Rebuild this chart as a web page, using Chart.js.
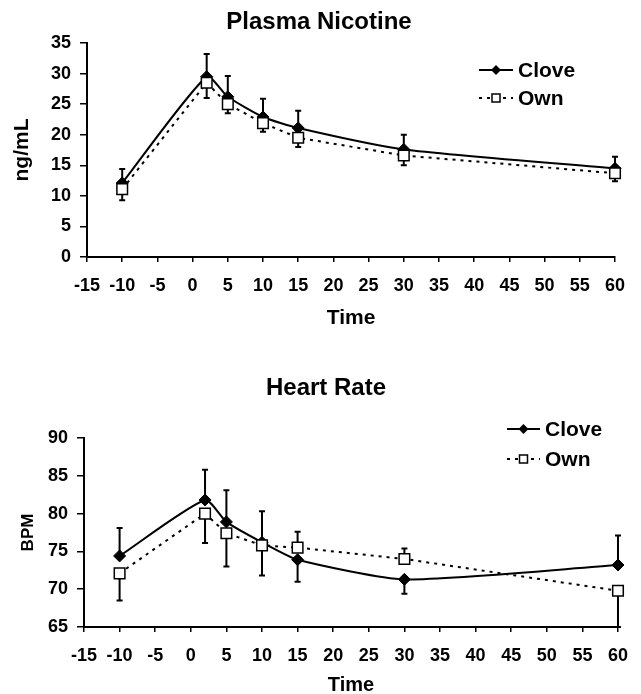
<!DOCTYPE html>
<html>
<head>
<meta charset="utf-8">
<script src="https://cdn.jsdelivr.net/npm/chart.js@4/dist/chart.umd.min.js"></script>
<style>
  body { margin: 0; background: #fff; }
  canvas { display: block; }
</style>
</head>
<body>
<canvas id="graficoNicotina" width="641" height="340"></canvas>
<canvas id="graficoBpm" width="641" height="354"></canvas>
<script>
// 1. DADOS
const tempos = [-10, 2, 5, 10, 15, 30, 60];
const nicotinaClove = [12.1, 29.5, 26.2, 22.9, 21.1, 17.6, 14.5];
const nicotinaOwn = [11.1, 28.5, 25.0, 21.9, 19.5, 16.6, 13.7];
// ponta da barra de erro (valor onde a barra termina)
const nicotinaCloveErro = [14.4, 33.2, 29.6, 25.9, 23.9, 20.0, 16.4];
const nicotinaOwnErro = [9.3, 26.0, 23.5, 20.5, 18.0, 15.0, 12.4];

const bpmClove = [74.4, 81.8, 78.9, 76.2, 73.9, 71.3, 73.2];
const bpmOwn = [72.1, 80.0, 77.4, 75.8, 75.5, 74.0, 69.8];
const bpmCloveErro = [78.1, 85.8, 83.1, 80.3, 71.0, 69.4, 77.1];
const bpmOwnErro = [68.5, 76.1, 73.0, 71.8, 77.6, 75.4, 65.0];

const ticksNicotina = [0, 35, 5];   // min, max, passo
const ticksBpm = [65, 90, 5];
const ticksTempo = [-15, 60, 5];

const FONTE = '"Liberation Sans", Arial, sans-serif';

function pontos(valores) {
    return tempos.map((t, i) => ({ x: t, y: valores[i] }));
}

// Barras de erro desenhadas por baixo dos marcadores
const barrasErro = {
    id: 'barrasErro',
    beforeDatasetsDraw(chart) {
        const ctx = chart.ctx;
        const sx = chart.scales.x, sy = chart.scales.y;
        ctx.save();
        ctx.strokeStyle = '#000';
        ctx.lineWidth = 2;
        chart.data.datasets.forEach(ds => {
            if (!ds.erro) return;
            ds.data.forEach((p, i) => {
                const px = sx.getPixelForValue(p.x);
                const y0 = sy.getPixelForValue(p.y);
                const y1 = sy.getPixelForValue(ds.erro[i]);
                ctx.beginPath();
                ctx.moveTo(px, y0);
                ctx.lineTo(px, y1);
                ctx.moveTo(px - 3, y1);
                ctx.lineTo(px + 3, y1);
                ctx.stroke();
            });
        });
        ctx.restore();
    }
};

// Título centralizado no canvas (o do Chart.js fica deslocado pelo padding)
const tituloManual = {
    id: 'tituloManual',
    afterDraw(chart, args, opts) {
        const ctx = chart.ctx;
        ctx.save();
        ctx.fillStyle = '#000';
        ctx.font = 'bold ' + opts.tamanho + 'px ' + FONTE;
        ctx.textAlign = 'center';
        ctx.textBaseline = 'middle';
        ctx.fillText(opts.texto, opts.x, opts.y);
        ctx.restore();
    }
};

// Legenda no estilo do Excel (linha + marcador)
const legendaManual = {
    id: 'legendaManual',
    afterDraw(chart, args, opts) {
        const ctx = chart.ctx;
        chart.data.datasets.forEach((ds, i) => {
            const yy = opts.y + i * opts.gap;
            const meio = opts.x + opts.w / 2;
            ctx.save();
            ctx.strokeStyle = '#000';
            ctx.lineWidth = 2;
            ctx.setLineDash(ds.borderDash || []);
            ctx.beginPath();
            ctx.moveTo(opts.x, yy);
            ctx.lineTo(opts.x + opts.w, yy);
            ctx.stroke();
            ctx.setLineDash([]);
            ctx.beginPath();
            if (ds.pointStyle === 'rectRot') {
                ctx.moveTo(meio, yy - 5);
                ctx.lineTo(meio + 5, yy);
                ctx.lineTo(meio, yy + 5);
                ctx.lineTo(meio - 5, yy);
                ctx.closePath();
                ctx.fillStyle = '#000';
                ctx.fill();
            } else {
                ctx.rect(meio - 4, yy - 4, 8, 8);
                ctx.fillStyle = '#fff';
                ctx.fill();
                ctx.lineWidth = 1.5;
                ctx.stroke();
            }
            ctx.fillStyle = '#000';
            ctx.font = 'bold ' + opts.tamanho + 'px ' + FONTE;
            ctx.textAlign = 'left';
            ctx.textBaseline = 'middle';
            ctx.fillText(ds.label, opts.x + opts.w + 5, yy + 1);
            ctx.restore();
        });
    }
};

function criarGrafico(id, cfg) {
    const ctx = document.getElementById(id).getContext('2d');
    return new Chart(ctx, {
        type: 'line',
        data: {
            datasets: [{
                label: 'Clove',
                data: pontos(cfg.clove),
                erro: cfg.cloveErro,
                borderColor: '#000',
                borderWidth: 2,
                tension: 0.2,
                clip: false,
                pointStyle: 'rectRot',
                pointRadius: 6,
                pointBackgroundColor: '#000',
                pointBorderColor: '#000',
                pointBorderWidth: 1,
                order: 1
            }, {
                label: 'Own',
                data: pontos(cfg.own),
                erro: cfg.ownErro,
                borderColor: '#000',
                borderWidth: 2,
                borderDash: [3, 5],
                tension: 0,
                clip: false,
                pointStyle: 'rect',
                pointRadius: 7.5,
                pointBackgroundColor: '#fff',
                pointBorderColor: '#000',
                pointBorderWidth: 1.5,
                order: 0
            }]
        },
        options: {
            responsive: false,
            animation: false,
            layout: { padding: { left: 0, right: cfg.direita, top: cfg.topo, bottom: 0 } },
            plugins: {
                legend: { display: false },
                tooltip: { enabled: false },
                title: { display: false },
                tituloManual: cfg.titulo,
                legendaManual: cfg.legenda
            },
            scales: {
                x: {
                    type: 'linear',
                    min: ticksTempo[0],
                    max: ticksTempo[1],
                    afterFit: s => { s.height = cfg.alturaX; },
                    ticks: {
                        stepSize: ticksTempo[2],
                        color: '#000',
                        padding: 13,
                        maxRotation: 0,
                        autoSkip: false,
                        font: { family: FONTE, size: 18, weight: 'bold' }
                    },
                    grid: { drawOnChartArea: false, tickLength: 5, color: '#000', lineWidth: 1.5 },
                    border: { color: '#000', width: 2 },
                    title: {
                        display: true,
                        text: 'Time',
                        color: '#000',
                        font: { family: FONTE, size: cfg.tempoFonte, weight: 'bold' },
                        padding: { top: 0, bottom: cfg.tempoPad }
                    }
                },
                y: {
                    min: cfg.ticksY[0],
                    max: cfg.ticksY[1],
                    afterFit: s => { s.width = cfg.larguraY; },
                    ticks: {
                        stepSize: cfg.ticksY[2],
                        color: '#000',
                        padding: 9,
                        font: { family: FONTE, size: 18, weight: 'bold' }
                    },
                    grid: { drawOnChartArea: false, tickLength: 7, color: '#000', lineWidth: 1.5 },
                    border: { color: '#000', width: 2 },
                    title: {
                        display: true,
                        text: cfg.tituloY,
                        color: '#000',
                        font: { family: FONTE, size: cfg.yFonte, weight: 'bold' },
                        padding: { top: cfg.yPad }
                    }
                }
            }
        },
        plugins: [barrasErro, tituloManual, legendaManual]
    });
}

criarGrafico('graficoNicotina', {
    titulo: { texto: 'Plasma Nicotine', x: 319, y: 22, tamanho: 24 },
    topo: 43,
    tituloY: 'ng/mL',
    yFonte: 21, yPad: 10,
    tempoFonte: 21, tempoPad: 9,
    ticksY: ticksNicotina,
    clove: nicotinaClove, own: nicotinaOwn,
    cloveErro: nicotinaCloveErro, ownErro: nicotinaOwnErro,
    direita: 26, alturaX: 83, larguraY: 87,
    legenda: { x: 479, y: 70, gap: 28, w: 34, tamanho: 21 }
});

criarGrafico('graficoBpm', {
    titulo: { texto: 'Heart Rate', x: 326, y: 48, tamanho: 24 },
    topo: 98,
    tituloY: 'BPM',
    yFonte: 17, yPad: 18,
    tempoFonte: 20, tempoPad: -3,
    ticksY: ticksBpm,
    clove: bpmClove, own: bpmOwn,
    cloveErro: bpmCloveErro, ownErro: bpmOwnErro,
    direita: 19, alturaX: 67, larguraY: 84,
    legenda: { x: 507, y: 89, gap: 30, w: 33, tamanho: 21 }
});
</script>
</body>
</html>
